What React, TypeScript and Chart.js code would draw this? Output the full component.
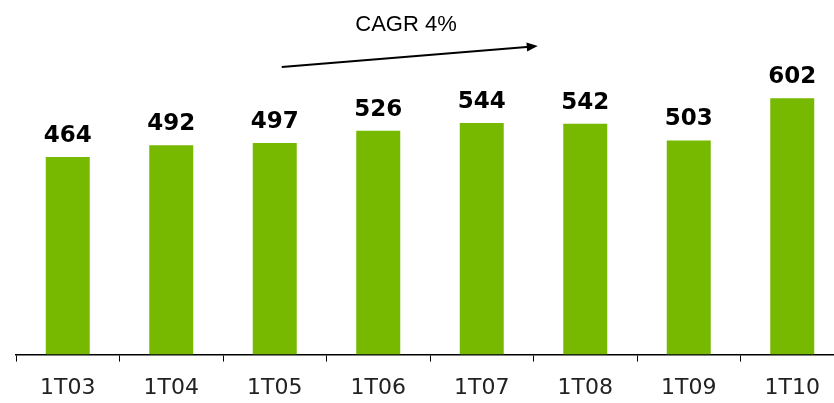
import React, { useEffect, useRef } from "react";
import { Chart, registerables } from "chart.js";

Chart.register(...registerables);

const categories = ["1T03", "1T04", "1T05", "1T06", "1T07", "1T08", "1T09", "1T10"];
const values = [464, 492, 497, 526, 544, 542, 503, 602];
const annotationText = "CAGR 4%";

const overlayPlugin = {
  id: "overlay",
  afterDatasetsDraw(chart: any) {
    const ctx = chart.ctx;
    const meta = chart.getDatasetMeta(0);
    ctx.save();
    ctx.fillStyle = "#000";
    ctx.font = "bold 23px 'DejaVu Sans'";
    ctx.textAlign = "center";
    ctx.textBaseline = "alphabetic";
    meta.data.forEach((bar: any, i: number) => {
      ctx.fillText(String(values[i]), bar.x, bar.y - 15);
    });
    // CAGR arrow
    const xs = chart.scales.x;
    const x0 = xs.getPixelForValue(2) + 7;
    const x1 = xs.getPixelForValue(4) + 56;
    const y0 = 67;
    const y1 = 46;
    ctx.strokeStyle = "#000";
    ctx.lineWidth = 2;
    const ang = Math.atan2(y1 - y0, x1 - x0);
    ctx.beginPath();
    ctx.moveTo(x0, y0);
    ctx.lineTo(x1 - 8 * Math.cos(ang), y1 - 8 * Math.sin(ang));
    ctx.stroke();
    ctx.beginPath();
    ctx.moveTo(x1, y1);
    ctx.lineTo(x1 - 11 * Math.cos(ang) + 4.5 * Math.sin(ang), y1 - 11 * Math.sin(ang) - 4.5 * Math.cos(ang));
    ctx.lineTo(x1 - 11 * Math.cos(ang) - 4.5 * Math.sin(ang), y1 - 11 * Math.sin(ang) + 4.5 * Math.cos(ang));
    ctx.closePath();
    ctx.fill();
    ctx.font = "22px 'Liberation Sans'";
    ctx.textBaseline = "middle";
    ctx.fillText(annotationText, 406, 25);
    ctx.restore();
  },
};

export default function App() {
  const ref = useRef<HTMLCanvasElement>(null);
  useEffect(() => {
    if (!ref.current) return;
    const chart = new Chart(ref.current, {
      type: "bar",
      data: {
        labels: categories,
        datasets: [
          {
            data: values,
            backgroundColor: "#76b900",
            categoryPercentage: 1,
            barPercentage: 0.425,
          },
        ],
      },
      options: {
        animation: false,
        responsive: false,
        maintainAspectRatio: false,
        layout: { padding: { left: 16, right: 0, top: 14, bottom: -11 } },
        plugins: { legend: { display: false }, tooltip: { enabled: false } },
        scales: {
          x: {
            grid: {
              display: true,
              drawOnChartArea: false,
              drawTicks: true,
              tickLength: 7,
              color: "#000",
              offset: true,
            },
            border: { display: true, color: "#000", width: 1.5 },
            ticks: {
              color: "#222",
              font: { family: "'DejaVu Sans'", size: 22 },
              padding: 13,
              maxRotation: 0,
            },
          },
          y: {
            display: false,
            min: 0,
            max: 800,
          },
        },
      },
      plugins: [overlayPlugin],
    });
    return () => chart.destroy();
  }, []);
  return (
    <div style={{ position: "fixed", left: 0, top: 0, width: 844, height: 403, background: "#fff" }}>
      <canvas ref={ref} width={844} height={403} style={{ width: 844, height: 403 }} />
    </div>
  );
}
